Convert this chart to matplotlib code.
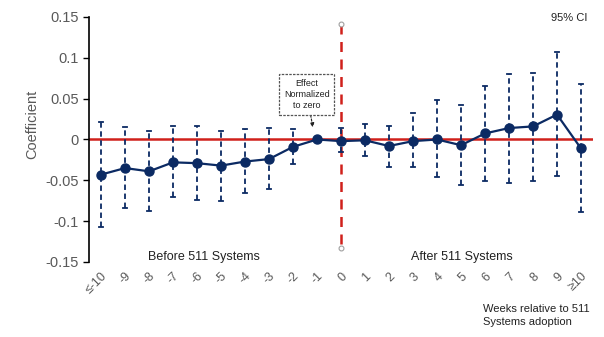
import matplotlib
matplotlib.use("Agg")
import matplotlib.pyplot as plt
import numpy as np

plt.rcParams["font.family"] = ["Liberation Sans", "DejaVu Sans"]

weeks = ["≤-10", "-9", "-8", "-7", "-6", "-5", "-4", "-3", "-2", "-1",
         "0", "1", "2", "3", "4", "5", "6", "7", "8", "9", "≥10"]
coef = [-0.043, -0.035, -0.039, -0.028, -0.029, -0.032, -0.027, -0.024, -0.009, 0.0,
        -0.002, -0.001, -0.008, -0.002, 0.0, -0.007, 0.0074, 0.014, 0.016, 0.0305, -0.011]
ci_hi = [0.022, 0.015, 0.011, 0.016, 0.017, 0.011, 0.013, 0.014, 0.013, np.nan,
         0.014, 0.019, 0.017, 0.032, 0.048, 0.042, 0.066, 0.080, 0.082, 0.107, 0.068]
ci_lo = [-0.107, -0.084, -0.088, -0.071, -0.074, -0.075, -0.066, -0.061, -0.030, np.nan,
         -0.015, -0.020, -0.034, -0.034, -0.046, -0.056, -0.051, -0.053, -0.051, -0.045, -0.089]

navy = "#0b2a63"
red = "#d0201b"
gray = "#595959"

fig = plt.figure(figsize=(6.04, 3.37), dpi=100)
ax = fig.add_axes([0.1474, 0.2226, 0.8344, 0.727])

x = np.arange(len(weeks))

# zero line
ax.axhline(0, color=red, lw=1.8, zorder=2)

# adoption line
ax.plot([10, 10], [0.1418, -0.1325], color=red, lw=1.8, ls=(0, (4, 3)), zorder=1)
ax.plot([10, 10], [0.1418, -0.1325], ls="none", marker="o", ms=3.5,
        mfc="white", mec="#a0a0a0", mew=0.8, zorder=3)

# confidence intervals
for i in range(len(weeks)):
    if np.isnan(ci_hi[i]):
        continue
    ax.plot([x[i], x[i]], [ci_lo[i], ci_hi[i]], color=navy, lw=1.3,
            ls=(0, (3, 2)), zorder=3)
    ax.plot([x[i] - 0.09, x[i] + 0.09], [ci_hi[i], ci_hi[i]], color=navy, lw=1.3, zorder=3)
    ax.plot([x[i] - 0.09, x[i] + 0.09], [ci_lo[i], ci_lo[i]], color=navy, lw=1.3, zorder=3)

ax.plot(x, coef, color=navy, lw=1.6, marker="o", ms=6.5, zorder=4)

ax.set_xlim(-0.5, 20.5)
ax.set_ylim(-0.15, 0.15)
ax.set_yticks([-0.15, -0.1, -0.05, 0, 0.05, 0.1, 0.15])
ax.set_yticklabels(["-0.15", "-0.1", "-0.05", "0", "0.05", "0.1", "0.15"])
ax.set_xticks(x)
ax.set_xticklabels(weeks, rotation=45, ha="right", va="top",
                   rotation_mode="anchor", color=gray, fontsize=9)
ax.tick_params(axis="x", length=0, pad=6)
ax.tick_params(axis="y", colors=gray, labelsize=10.5, length=4, width=1, direction="out")
ax.tick_params(axis="y", color="black")

for s in ["top", "right", "bottom"]:
    ax.spines[s].set_visible(False)
ax.spines["left"].set_linewidth(1.2)

ax.set_ylabel("Coefficient", color=gray, fontsize=10.5)
ax.yaxis.set_label_coords(-0.098, 0.56)

ax.text(4.3, -0.144, "Before 511 Systems", ha="center", va="center", fontsize=9, color="#222222")
ax.text(15.05, -0.144, "After 511 Systems", ha="center", va="center", fontsize=9, color="#222222")
ax.text(19.5, 0.149, "95% CI", ha="center", va="center", fontsize=8, color="#222222")

ax.annotate("Effect\nNormalized\nto zero", xy=(8.83, 0.0148), xytext=(8.57, 0.055),
            ha="center", va="center", fontsize=6.5, color="#222222", linespacing=1.3,
            bbox=dict(boxstyle="square,pad=0.5", fc="white", ec="#555555", ls=(0, (2, 1)), lw=0.9),
            arrowprops=dict(arrowstyle="-|>", color="#222222", ls=(0, (2, 1.5)), lw=0.8,
                            mutation_scale=6, shrinkA=0, shrinkB=0))

fig.text(0.799, 0.063, "Weeks relative to 511\nSystems adoption", ha="left", va="center",
         fontsize=8, color="#222222", linespacing=1.35)

fig.savefig("out.png", dpi=100, facecolor="white")
